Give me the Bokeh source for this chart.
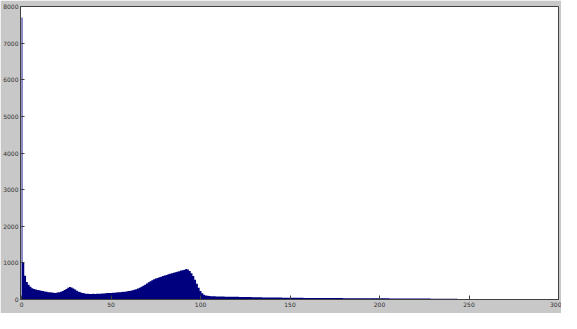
import re
from bokeh.plotting import figure
from bokeh.models import FixedTicker, Range1d
from bokeh.embed import file_html
from bokeh.resources import INLINE

# Histogram counts for grey levels 0..255
counts_0_15 = [7700, 1000, 650, 480, 400, 350, 310, 290, 270, 260, 250, 240, 230, 220, 210, 200]
counts_16_31 = [195, 190, 185, 180, 190, 200, 215, 235, 260, 290, 320, 340, 330, 300, 270, 240]
counts_32_47 = [215, 195, 180, 170, 160, 155, 150, 150, 155, 150, 155, 160, 160, 165, 165, 170]
counts_48_63 = [175, 175, 180, 185, 185, 190, 195, 200, 205, 210, 215, 225, 230, 240, 250, 265]
counts_64_79 = [280, 300, 320, 345, 375, 405, 440, 470, 500, 525, 550, 570, 590, 605, 620, 640]
counts_80_95 = [655, 670, 690, 700, 715, 730, 745, 760, 770, 790, 800, 810, 830, 820, 780, 720]
counts_96_111 = [640, 540, 430, 320, 230, 170, 130, 110, 100, 95, 90, 88, 86, 85, 84, 82]
counts_112_127 = [80, 80, 78, 78, 76, 75, 75, 74, 72, 72, 70, 70, 68, 68, 66, 66]
counts_128_143 = [65, 64, 64, 62, 62, 60, 60, 58, 58, 57, 56, 56, 55, 54, 54, 53]
counts_144_159 = [52, 52, 51, 50, 50, 50, 49, 48, 48, 47, 46, 46, 45, 45, 44, 44]
counts_160_175 = [44, 43, 43, 42, 42, 42, 41, 41, 41, 40, 40, 40, 40, 39, 39, 39]
counts_176_191 = [38, 38, 38, 38, 37, 37, 37, 36, 36, 36, 36, 35, 35, 35, 35, 34]
counts_192_207 = [34, 34, 34, 33, 33, 33, 33, 32, 32, 32, 32, 31, 31, 31, 30, 30]
counts_208_223 = [30, 30, 29, 29, 29, 28, 28, 28, 28, 27, 27, 27, 26, 26, 26, 25]
counts_224_239 = [25, 25, 24, 24, 24, 23, 23, 22, 22, 22, 21, 21, 20, 20, 20, 19]
counts_240_255 = [19, 18, 18, 18, 17, 17, 16, 16, 15, 15, 14, 14, 13, 13, 12, 12]

counts = (counts_0_15 + counts_16_31 + counts_32_47 + counts_48_63 + counts_64_79
          + counts_80_95 + counts_96_111 + counts_112_127 + counts_128_143
          + counts_144_159 + counts_160_175 + counts_176_191 + counts_192_207
          + counts_208_223 + counts_224_239 + counts_240_255)
levels = list(range(len(counts)))

x_ticks = [0, 50, 100, 150, 200, 250, 300]
y_ticks = [0, 1000, 2000, 3000, 4000, 5000, 6000, 7000, 8000]

BG = "#c8c8c8"
BAR = "#00007f"

p = figure(width=561, height=313, output_backend="svg", toolbar_location=None,
           x_range=Range1d(-0.6, 300), y_range=Range1d(0, 8000),
           background_fill_color="white", border_fill_color=BG,
           min_border_left=20, min_border_right=3, min_border_top=6,
           min_border_bottom=14)

p.varea_step(x=levels, y1=[0] * len(counts), y2=counts, step_mode="center",
             fill_color=BAR)

p.xgrid.visible = False
p.ygrid.visible = False
p.outline_line_color = "#404040"
p.outline_line_width = 1

for ax in (p.xaxis[0], p.yaxis[0]):
    ax.axis_line_color = "#404040"
    ax.major_tick_line_color = "#404040"
    ax.major_tick_in = 4
    ax.major_tick_out = 0
    ax.minor_tick_line_color = None
    ax.major_label_text_font = "DejaVu Sans"
    ax.major_label_text_font_size = "6px"
    ax.major_label_text_color = "#303030"
    ax.major_label_standoff = 2

p.xaxis.ticker = FixedTicker(ticks=x_ticks)
p.yaxis.ticker = FixedTicker(ticks=y_ticks)

html = file_html(p, INLINE)
html = re.sub(r"<body[^>]*>", '<body style="background:%s">' % BG, html, count=1)
open("out.html", "w").write(html)
